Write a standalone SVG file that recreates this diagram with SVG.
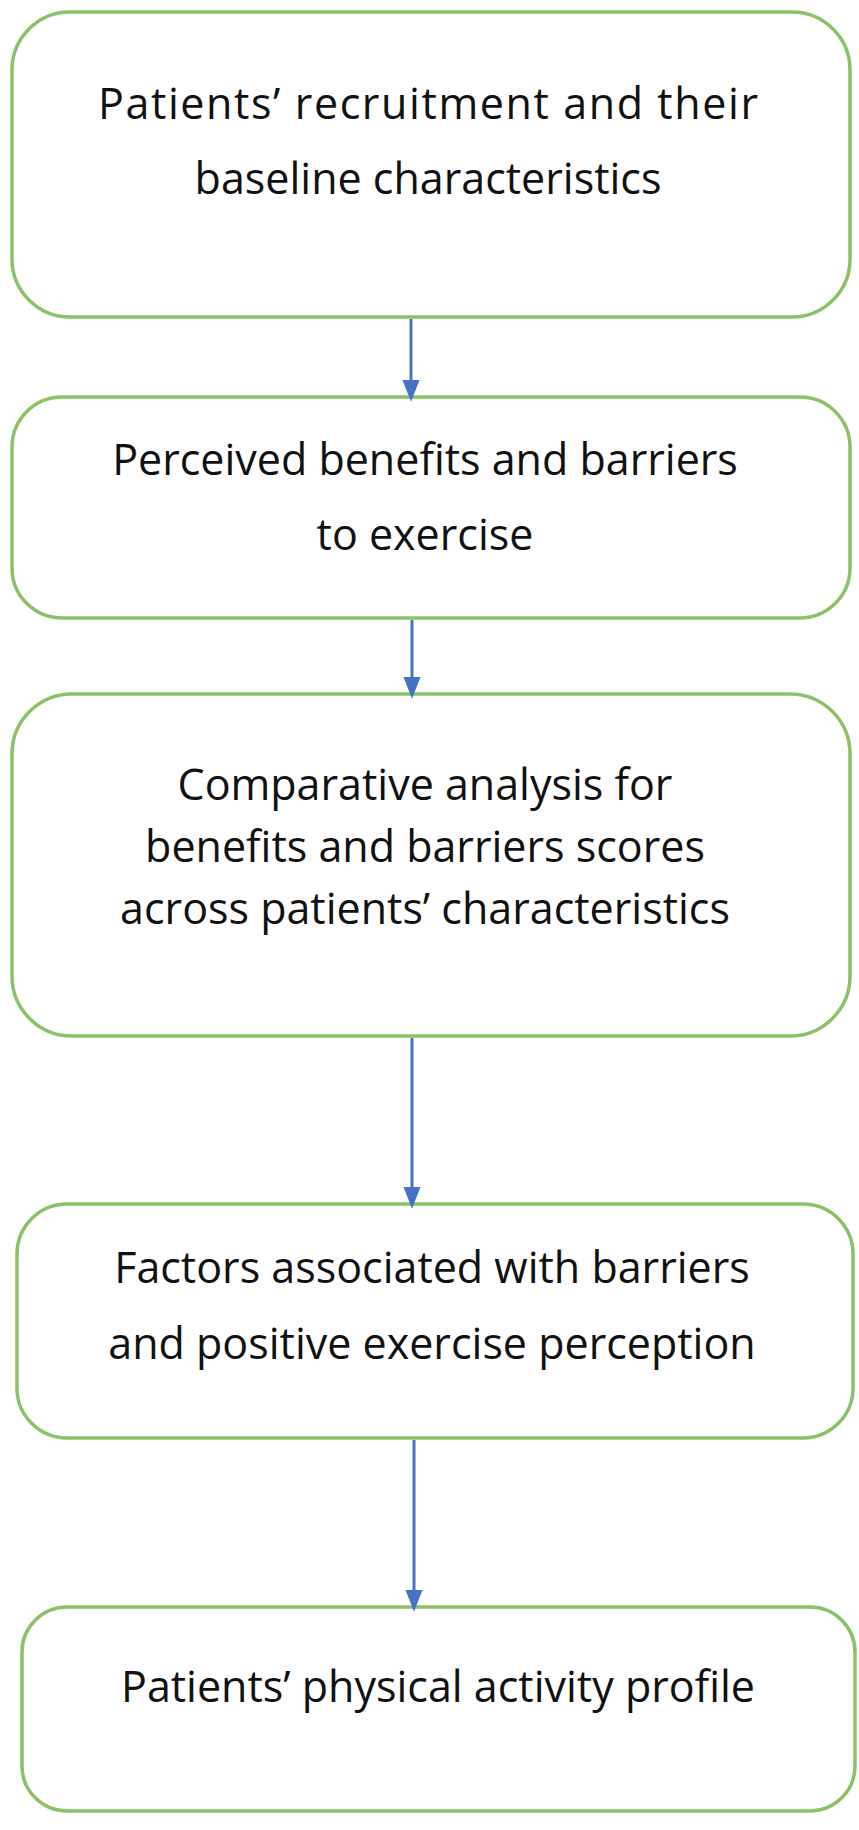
<svg xmlns="http://www.w3.org/2000/svg" width="859" height="1830" viewBox="0 0 859 1830">
<defs>
<marker id="ah" markerWidth="22" markerHeight="28" refX="22" refY="11" orient="auto" markerUnits="userSpaceOnUse" viewBox="0 0 28 22"><path d="M0,0 L28,11 L0,22 z" fill="#4472c4"/></marker>
<style>
.box{fill:#fff;stroke:#8cc168;stroke-width:3.5}
.t{font-family:"Open Sans","DejaVu Sans",sans-serif;font-size:43px;fill:#111;text-anchor:middle}
.c{stroke:#4472c4;stroke-width:3;fill:none}
</style>
</defs>
<rect width="859" height="1830" fill="#fff"/>
<g id="n1"><rect class="box" x="12" y="12" width="838" height="305" rx="58"/>
<text class="t" x="428" y="119" textLength="660">Patients’ recruitment and their</text>
<text class="t" x="428" y="194">baseline characteristics</text></g>
<g id="n2"><rect class="box" x="12" y="397" width="838" height="221" rx="50"/>
<text class="t" x="425" y="475">Perceived benefits and barriers</text>
<text class="t" x="425" y="550">to exercise</text></g>
<g id="n3"><rect class="box" x="12" y="694" width="838" height="342" rx="60"/>
<text class="t" x="425" y="800">Comparative analysis for</text>
<text class="t" x="425" y="862">benefits and barriers scores</text>
<text class="t" x="425" y="924">across patients’ characteristics</text></g>
<g id="n4"><rect class="box" x="17" y="1204" width="836" height="234" rx="50"/>
<text class="t" x="432" y="1283">Factors associated with barriers</text>
<text class="t" x="432" y="1359">and positive exercise perception</text></g>
<g id="n5"><rect class="box" x="22" y="1607" width="833" height="204" rx="45"/>
<text class="t" x="438" y="1702">Patients’ physical activity profile</text></g>
<g id="connectors">
<line class="c" x1="411" y1="319" x2="411" y2="397" marker-end="url(#ah)"/>
<line class="c" x1="412" y1="620" x2="412" y2="694" marker-end="url(#ah)"/>
<line class="c" x1="412" y1="1038" x2="412" y2="1204" marker-end="url(#ah)"/>
<line class="c" x1="414" y1="1440" x2="414" y2="1607" marker-end="url(#ah)"/>
</g>
</svg>
